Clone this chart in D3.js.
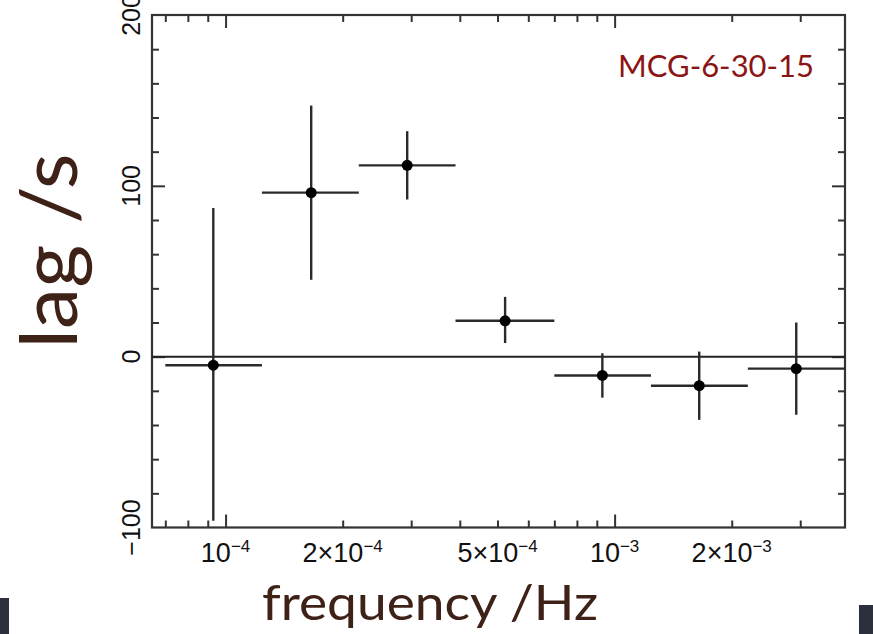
<!DOCTYPE html>
<html>
<head>
<meta charset="utf-8">
<script src="https://cdn.jsdelivr.net/npm/d3@7"></script>
<style>
  body { margin: 0; background: #fff; }
  svg { display: block; }
</style>
</head>
<body>
<div id="viz"></div>
<script>
// lag-frequency spectrum, values
const freqLo = [7.0e-5, 1.24e-4, 2.2e-4, 3.9e-4, 7.0e-4, 1.24e-3, 2.2e-3];
const freqHi = [1.24e-4, 2.2e-4, 3.9e-4, 7.0e-4, 1.24e-3, 2.2e-3, 3.9e-3];
const freq = [9.3e-5, 1.66e-4, 2.93e-4, 5.23e-4, 9.3e-4, 1.65e-3, 2.93e-3];
const lag = [-5, 96, 112, 21, -11, -17, -7];
const lagLo = [-96, 45, 92, 8, -24, -37, -34];
const lagHi = [87, 147, 132, 35, 2, 3, 20];

const xLabelTicks = [1e-4, 2e-4, 5e-4, 1e-3, 2e-3];
const xLabelText = [['10', '−4'], ['2×10', '−4'], ['5×10', '−4'], ['10', '−3'], ['2×10', '−3']];
const yTicks = [-100, 0, 100, 200];

const W = 873, H = 634,
    margin = {top: 15, right: 28, bottom: 106.5, left: 152},
    width = W - margin.left - margin.right,
    height = H - margin.top - margin.bottom;

const svg = d3.select('#viz').append('svg')
    .attr('width', W)
    .attr('height', H);

// dark slide edges at bottom
svg.append('rect').attr('x', 0).attr('y', 598).attr('width', 9).attr('height', 36).attr('fill', '#2b303c');
svg.append('rect').attr('x', 859).attr('y', 605).attr('width', 14).attr('height', 29).attr('fill', '#2b303c');

const x = d3.scaleLog().domain([6.47e-5, 3.91e-3]).range([0, width]);
const y = d3.scaleLinear().domain([-100, 200]).range([height, 0]);

const g = svg.append('g').attr('transform', `translate(${margin.left},${margin.top})`);

// minor / major tick sets
const xMinor = [];
for (let e = -5; e <= -3; e++) {
    for (let m = 2; m <= 9; m++) {
        const v = m * Math.pow(10, e);
        if (v > x.domain()[0] && v < x.domain()[1]) xMinor.push(v);
    }
}
const xMajor = [1e-4, 1e-3];
const yMinor = d3.range(-80, 200, 20).filter(d => d % 100 !== 0);
const yMajor = [0, 100];

function styleAxis(sel) {
    sel.select('.domain').remove();
    sel.selectAll('line').attr('stroke', '#333').attr('stroke-width', 2);
}

g.append('g').attr('transform', `translate(0,${height})`)
    .call(d3.axisBottom(x).tickValues(xMinor).tickSize(-7).tickFormat(''))
    .call(styleAxis);
g.append('g').attr('transform', `translate(0,${height})`)
    .call(d3.axisBottom(x).tickValues(xMajor).tickSize(-13).tickFormat(''))
    .call(styleAxis);
g.append('g')
    .call(d3.axisTop(x).tickValues(xMinor).tickSize(-7).tickFormat(''))
    .call(styleAxis);
g.append('g')
    .call(d3.axisTop(x).tickValues(xMajor).tickSize(-13).tickFormat(''))
    .call(styleAxis);

g.append('g')
    .call(d3.axisLeft(y).tickValues(yMinor).tickSize(-7).tickFormat(''))
    .call(styleAxis);
g.append('g')
    .call(d3.axisLeft(y).tickValues(yMajor).tickSize(-13).tickFormat(''))
    .call(styleAxis);
g.append('g').attr('transform', `translate(${width},0)`)
    .call(d3.axisRight(y).tickValues(yMinor).tickSize(-7).tickFormat(''))
    .call(styleAxis);
g.append('g').attr('transform', `translate(${width},0)`)
    .call(d3.axisRight(y).tickValues(yMajor).tickSize(-13).tickFormat(''))
    .call(styleAxis);

// frame
g.append('rect')
    .attr('width', width)
    .attr('height', height)
    .attr('fill', 'none')
    .attr('stroke', '#333')
    .attr('stroke-width', 2.2);

// x tick labels with superscripts
const xl = g.append('g')
    .attr('font-family', '"Liberation Sans", Arial, sans-serif')
    .attr('fill', '#111');
xLabelTicks.forEach(function(v, i) {
    const t = xl.append('text')
        .attr('x', x(v))
        .attr('y', height + 34)
        .attr('text-anchor', 'middle')
        .attr('font-size', 27);
    t.append('tspan').text(xLabelText[i][0]);
    t.append('tspan').attr('dy', -10).attr('font-size', 17).text(xLabelText[i][1]);
});

// y tick labels, rotated
g.append('g').selectAll('text')
    .data(yTicks)
    .enter().append('text')
    .attr('transform', d => `translate(-12,${y(d)}) rotate(-90)`)
    .attr('text-anchor', 'middle')
    .attr('font-family', '"Liberation Sans", Arial, sans-serif')
    .attr('font-size', 25)
    .attr('fill', '#111')
    .text(d => d < 0 ? '−' + Math.abs(d) : d);

// zero line
g.append('line')
    .attr('x1', 0).attr('x2', width)
    .attr('y1', y(0)).attr('y2', y(0))
    .attr('stroke', '#222')
    .attr('stroke-width', 2);

// error bars + points
const clipX = v => Math.max(0, Math.min(width, x(v)));
const pts = g.append('g');
pts.selectAll('line.h')
    .data(freq)
    .enter().append('line')
    .attr('class', 'h')
    .attr('x1', (d, i) => clipX(freqLo[i]))
    .attr('x2', (d, i) => clipX(freqHi[i]))
    .attr('y1', (d, i) => y(lag[i]))
    .attr('y2', (d, i) => y(lag[i]))
    .attr('stroke', '#2a2a2a')
    .attr('stroke-width', 2.4);
pts.selectAll('line.v')
    .data(freq)
    .enter().append('line')
    .attr('class', 'v')
    .attr('x1', d => x(d))
    .attr('x2', d => x(d))
    .attr('y1', (d, i) => y(lagLo[i]))
    .attr('y2', (d, i) => y(lagHi[i]))
    .attr('stroke', '#2a2a2a')
    .attr('stroke-width', 2.4);
pts.selectAll('circle')
    .data(freq)
    .enter().append('circle')
    .attr('cx', d => x(d))
    .attr('cy', (d, i) => y(lag[i]))
    .attr('r', 5.5)
    .attr('fill', '#000');

// source label
svg.append('text')
    .attr('x', 814)
    .attr('y', 77)
    .attr('text-anchor', 'end')
    .attr('font-family', 'Lato, "Open Sans", sans-serif')
    .attr('font-size', 31)
    .attr('fill', '#8b1414')
    .attr('textLength', 196)
    .attr('lengthAdjust', 'spacingAndGlyphs')
    .text('MCG-6-30-15');

// axis titles
svg.append('text')
    .attr('transform', 'translate(77,251) rotate(-90)')
    .attr('text-anchor', 'middle')
    .attr('font-family', 'Lato, "Open Sans", sans-serif')
    .attr('font-size', 80)
    .attr('fill', '#3e2117')
    .attr('textLength', 195)
    .attr('lengthAdjust', 'spacingAndGlyphs')
    .text('lag /s');

svg.append('text')
    .attr('x', 430)
    .attr('y', 620)
    .attr('text-anchor', 'middle')
    .attr('font-family', 'Lato, "Open Sans", sans-serif')
    .attr('font-size', 48)
    .attr('fill', '#3e2117')
    .attr('textLength', 336)
    .attr('lengthAdjust', 'spacingAndGlyphs')
    .text('frequency /Hz');
</script>
</body>
</html>
